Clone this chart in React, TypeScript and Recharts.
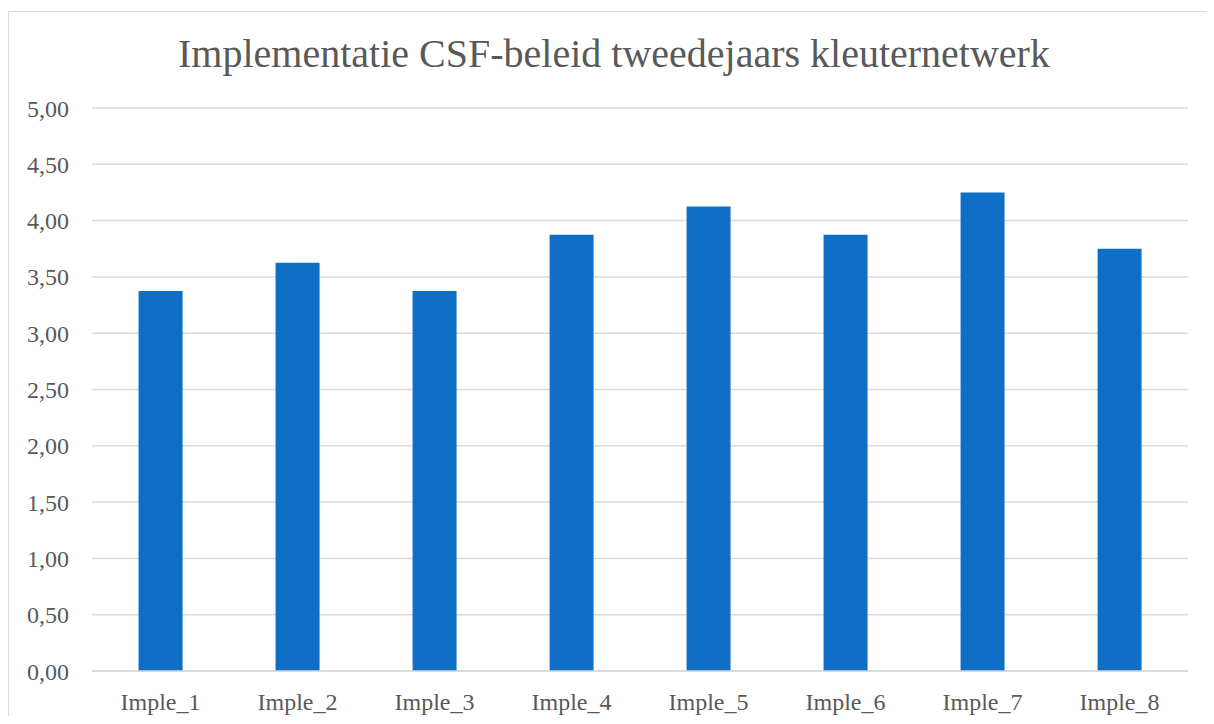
import React from "react"
import { BarChart, Bar, XAxis, YAxis, CartesianGrid } from "recharts"

// categories and mean scores
const categories = ["Imple_1", "Imple_2", "Imple_3", "Imple_4", "Imple_5", "Imple_6", "Imple_7", "Imple_8"]
const scores = [3.375, 3.625, 3.375, 3.875, 4.125, 3.875, 4.25, 3.75]
const yTicks = [0, 0.5, 1, 1.5, 2, 2.5, 3, 3.5, 4, 4.5, 5]

const FONT = '"Liberation Serif", "DejaVu Serif", serif'
const TEXT = "#595959"
const GRID = "#D9D9D9"

const data = categories.map((name, i) => ({ name, value: scores[i] }))

const fmt = (v: number) => v.toFixed(2).replace(".", ",")

export default function App() {
  // box is clipped at the window edge like the reference crop
  return (
    <div
      style={{
        position: "relative",
        marginTop: 3,
        width: 1205,
        height: 704,
        overflow: "hidden",
        borderTop: `1px solid ${GRID}`,
        borderLeft: `1px solid ${GRID}`,
        background: "#fff",
        fontFamily: FONT,
      }}
    >
      <div
        style={{
          position: "absolute",
          top: 22,
          left: 0,
          width: 1210,
          textAlign: "center",
          fontSize: 40,
          lineHeight: "40px",
          color: TEXT,
        }}
      >
        Implementatie CSF-beleid tweedejaars kleuternetwerk
      </div>
      <BarChart
        width={1205}
        height={712}
        data={data}
        margin={{ top: 96, right: 26, bottom: 13, left: 0 }}
        barCategoryGap="34%"
      >
        <CartesianGrid vertical={false} stroke={GRID} strokeWidth={1.5} />
        <XAxis
          dataKey="name"
          height={40}
          axisLine={{ stroke: GRID, strokeWidth: 1.5 }}
          tickLine={false}
          tickMargin={16}
          tick={{ fill: TEXT, fontSize: 24, fontFamily: FONT }}
        />
        <YAxis
          width={83}
          domain={[0, 5]}
          ticks={yTicks}
          tickFormatter={fmt}
          axisLine={false}
          tickLine={false}
          tickMargin={17}
          tick={{ fill: TEXT, fontSize: 24, fontFamily: FONT }}
        />
        <Bar dataKey="value" fill="#0F6FC6" isAnimationActive={false} />
      </BarChart>
    </div>
  )
}
